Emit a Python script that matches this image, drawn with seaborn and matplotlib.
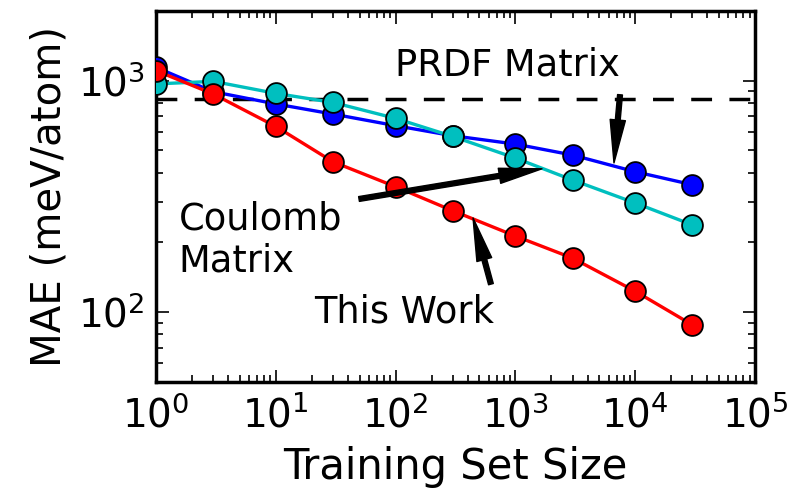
import pandas as pd
import matplotlib
matplotlib.use("Agg")
import matplotlib.pyplot as plt
from matplotlib.ticker import LogLocator
import seaborn as sns

# Datos
training_size = [1, 3, 10, 30, 100, 300, 1000, 3000, 10000, 30000]
mae_this_work = [1105, 876, 634, 446, 348, 274, 213, 171, 123, 88]
mae_prdf = [1142, 896, 793, 717, 639, 578, 532, 477, 404, 355]
mae_coulomb = [968, 993, 881, 805, 687, 574, 463, 372, 296, 238]
prdf_matrix_level = 830

series = [
    ("PRDF", mae_prdf, "#0000ff"),
    ("Coulomb", mae_coulomb, "#00bfbf"),
    ("This Work", mae_this_work, "#ff0000"),
]

df = pd.DataFrame({"size": training_size})
for nombre, valores, _ in series:
    df[nombre] = valores

sns.set_theme(style="ticks", rc={
    "xtick.direction": "in",
    "ytick.direction": "in",
    "xtick.top": True,
    "ytick.right": True,
    "xtick.major.size": 9,
    "ytick.major.size": 9,
    "xtick.minor.size": 5,
    "ytick.minor.size": 5,
    "xtick.major.width": 1.2,
    "ytick.major.width": 1.2,
    "xtick.minor.width": 1.2,
    "ytick.minor.width": 1.2,
    "axes.linewidth": 2.5,
    "axes.edgecolor": "black",
    "text.color": "black",
    "axes.labelcolor": "black",
    "xtick.color": "black",
    "ytick.color": "black",
})
plt.rcParams["font.family"] = ["DejaVu Sans"]

fig = plt.figure(figsize=(7.9, 4.97), dpi=100)
ax = fig.add_axes([156 / 790, 1 - 381.7 / 497, 599 / 790, 370.7 / 497])

for nombre, _, color in series:
    sns.lineplot(data=df, x="size", y=nombre, ax=ax, color=color, lw=2.4,
                 marker="o", markersize=15, markeredgecolor="black",
                 markeredgewidth=1.3, zorder=3)

ax.axhline(prdf_matrix_level, color="black", lw=2.5, linestyle=(0, (6, 5)), zorder=2)

ax.set_xscale("log")
ax.set_yscale("log")
ax.set_xlim(1, 1e5)
ax.set_ylim(50, 2000)
ax.xaxis.set_major_locator(LogLocator(base=10, numticks=12))
ax.xaxis.set_minor_locator(LogLocator(base=10, subs=range(2, 10), numticks=12))
ax.tick_params(axis="both", which="major", labelsize=28, pad=8)
ax.tick_params(axis="x", which="major", pad=10)
ax.set_xlabel("Training Set Size", fontsize=30, labelpad=8)
ax.set_ylabel("MAE (meV/atom)", fontsize=29, labelpad=6)

flecha = dict(facecolor="black", edgecolor="black", width=3.5, headwidth=11,
              headlength=31, shrink=0)
ax.annotate("", xy=(6650, 441), xytext=(7470, 869), arrowprops=flecha)
ax.annotate("", xy=(1667, 416), xytext=(49.5, 308), arrowprops=flecha)
ax.annotate("", xy=(443, 255), xytext=(625, 132), arrowprops=flecha)

ax.text(0.587, 0.827, "PRDF Matrix", transform=ax.transAxes, fontsize=26.5,
        ha="center", va="baseline")
ax.text(0.038, 0.382, "Coulomb\nMatrix", transform=ax.transAxes, fontsize=26.5,
        ha="left", va="center", linespacing=1.15)
ax.text(0.414, 0.161, "This Work", transform=ax.transAxes, fontsize=26.5,
        ha="center", va="baseline")

fig.savefig("out.png", dpi=100)
plt.close(fig)
